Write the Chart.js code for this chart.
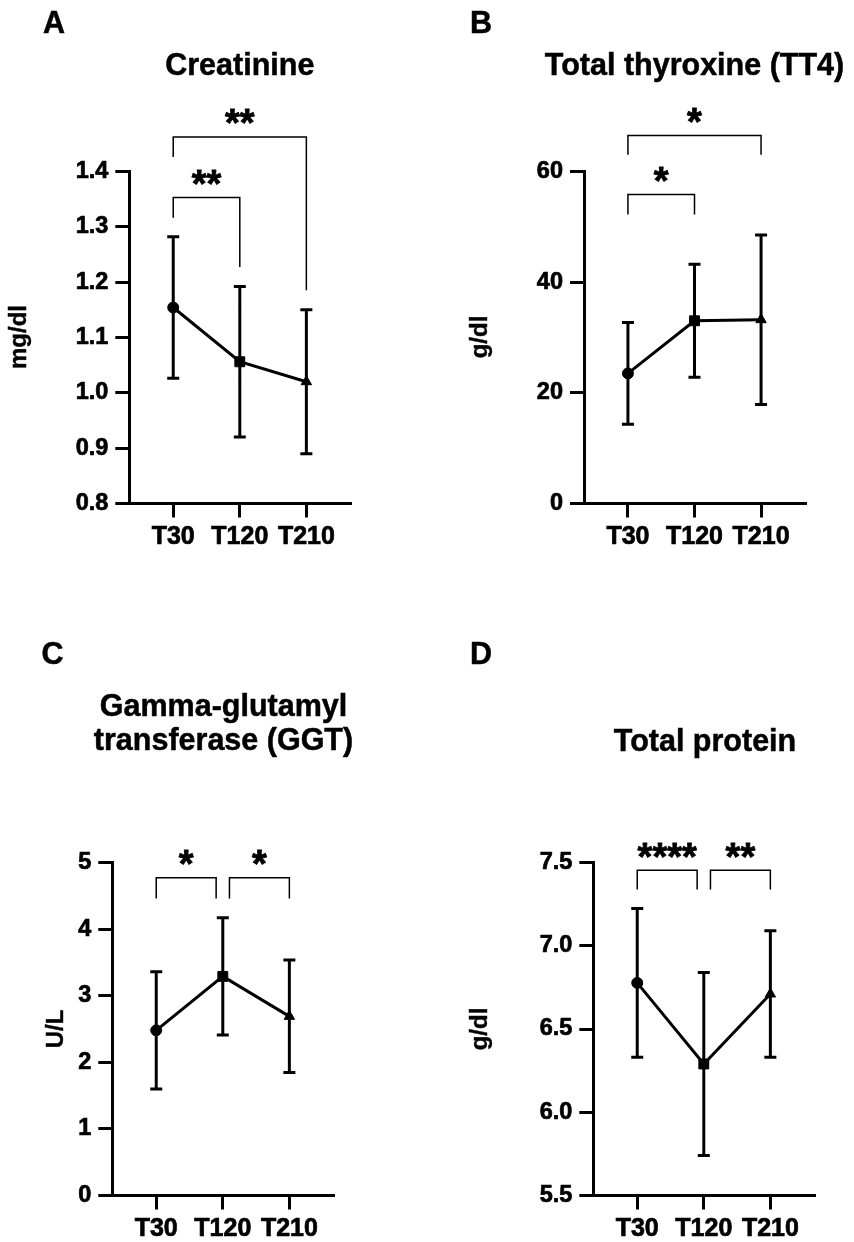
<!DOCTYPE html>
<html>
<head>
<meta charset="utf-8">
<title>Serum biochemistry T30 / T120 / T210</title>
<script src="https://cdn.jsdelivr.net/npm/chart.js@4.4.1/dist/chart.umd.min.js"></script>
<style>
  html, body { margin: 0; padding: 0; background: #fff; }
  body { width: 854px; height: 1242px; position: relative; overflow: hidden;
         font-family: "Liberation Sans", Arial, Helvetica, sans-serif; color: #000; }
  canvas { position: absolute; }
  .letter, .title, .ytitle { position: absolute; font-weight: bold; line-height: 1; white-space: nowrap; }
  .letter, .title { font-size: 30.5px; -webkit-text-stroke: 0.5px #000; }
  .title { transform: translateX(-50%); text-align: center; }
  .ytitle { font-size: 24px; -webkit-text-stroke: 0.4px #000; transform: translate(-50%, -50%) rotate(-90deg); }
</style>
</head>
<body>
<canvas id="chartA" width="427" height="600" style="left:0;top:0"></canvas>
<canvas id="chartB" width="427" height="600" style="left:427px;top:0"></canvas>
<canvas id="chartC" width="427" height="642" style="left:0;top:600px"></canvas>
<canvas id="chartD" width="427" height="642" style="left:427px;top:600px"></canvas>

<div class="letter" style="left:43px;top:6.6px">A</div>
<div class="letter" style="left:470px;top:6.6px">B</div>
<div class="letter" style="left:41.5px;top:637.7px">C</div>
<div class="letter" style="left:470px;top:637.7px">D</div>

<div class="title" style="left:239.8px;top:48.7px">Creatinine</div>
<div class="title" style="left:694.5px;top:49.2px">Total thyroxine (TT4)</div>
<div class="title" style="left:223.5px;top:688.4px;line-height:34px">Gamma-glutamyl<br>transferase (GGT)</div>
<div class="title" style="left:705px;top:725.2px">Total protein</div>

<div class="ytitle" style="left:18.4px;top:337.4px">mg/dl</div>
<div class="ytitle" style="left:478.7px;top:337.4px">g/dl</div>
<div class="ytitle" style="left:55px;top:1029px">U/L</div>
<div class="ytitle" style="left:478.7px;top:1029px">g/dl</div>

<script>
// 측정 시점
const categories = ["T30", "T120", "T210"];

// A: Creatinine (mg/dl) - 평균, 표준편차
const creatMean = [1.154, 1.056, 1.02];
const creatSd = [0.128, 0.136, 0.13];
const creatTicks = [0.8, 0.9, 1.0, 1.1, 1.2, 1.3, 1.4];
const creatTickLabels = ["0.8", "0.9", "1.0", "1.1", "1.2", "1.3", "1.4"];
const creatSig = [
    { from: 0, to: 1, y: 1.3525, legs: [1.316, 1.227], text: "**" },
    { from: 0, to: 2, y: 1.462, legs: [1.426, 1.185], text: "**" }
];

// B: Total thyroxine (g/dl)
const tt4Mean = [23.5, 33.0, 33.2];
const tt4Sd = [9.2, 10.2, 15.3];
const tt4Ticks = [0, 20, 40, 60];
const tt4TickLabels = ["0", "20", "40", "60"];
const tt4Sig = [
    { from: 0, to: 1, y: 55.8, legs: [52.2, 52.2], text: "*" },
    { from: 0, to: 2, y: 66.45, legs: [63.0, 63.0], text: "*" }
];

// C: GGT (U/L)
const ggtMean = [2.48, 3.29, 2.69];
const ggtSd = [0.88, 0.88, 0.845];
const ggtTicks = [0, 1, 2, 3, 4, 5];
const ggtTickLabels = ["0", "1", "2", "3", "4", "5"];
const ggtSig = [
    { from: 0, to: 0.9, y: 4.77, legs: [4.46, 4.46], text: "*" },
    { from: 1.1, to: 2, y: 4.77, legs: [4.46, 4.46], text: "*" }
];

// D: Total protein (g/dl)
const protMean = [6.777, 6.29, 6.71];
const protSd = [0.447, 0.55, 0.38];
const protTicks = [5.5, 6.0, 6.5, 7.0, 7.5];
const protTickLabels = ["5.5", "6.0", "6.5", "7.0", "7.5"];
const protSig = [
    { from: 0, to: 0.9, y: 7.454, legs: [7.338, 7.338], text: "****" },
    { from: 1.1, to: 2, y: 7.454, legs: [7.338, 7.338], text: "**" }
];

const markerStyles = ["circle", "rect", "triangle"];
const markerRadius = [5.5, 7, 6];

Chart.defaults.font.family = "'Liberation Sans', Arial, Helvetica, sans-serif";
Chart.defaults.font.weight = "bold";
Chart.defaults.color = "#000";

// 에러바: 위/아래 끝점 + null 로 끊기
function errorBarPoints(mean, sd) {
    const pts = [];
    mean.forEach((m, i) => {
        pts.push({ x: i, y: m + sd[i] }, { x: i, y: m - sd[i] }, { x: i, y: null });
    });
    return pts;
}

// 유의성 브래킷 + 별표
function sigPlugin(items) {
    return {
        id: "sigBars",
        afterDraw(chart) {
            const { ctx } = chart;
            const xs = chart.scales.x, ys = chart.scales.y;
            ctx.save();
            ctx.strokeStyle = "#000";
            ctx.fillStyle = "#000";
            ctx.lineWidth = 1.5;
            ctx.lineJoin = "miter";
            items.forEach(b => {
                const x1 = xs.getPixelForValue(b.from);
                const x2 = xs.getPixelForValue(b.to);
                const yb = ys.getPixelForValue(b.y);
                ctx.beginPath();
                ctx.moveTo(x1, ys.getPixelForValue(b.legs[0]));
                ctx.lineTo(x1, yb);
                ctx.lineTo(x2, yb);
                ctx.lineTo(x2, ys.getPixelForValue(b.legs[1]));
                ctx.stroke();
            });
            ctx.font = "bold 38px 'Liberation Sans', Arial, sans-serif";
            ctx.textAlign = "center";
            ctx.textBaseline = "alphabetic";
            ctx.lineWidth = 0.8;
            items.forEach(b => {
                const x1 = xs.getPixelForValue(b.from);
                const x2 = xs.getPixelForValue(b.to);
                const yb = ys.getPixelForValue(b.y);
                const m = ctx.measureText(b.text);
                const ty = yb - 20 + (m.actualBoundingBoxAscent - m.actualBoundingBoxDescent) / 2;
                ctx.fillText(b.text, (x1 + x2) / 2, ty);
                ctx.strokeText(b.text, (x1 + x2) / 2, ty);
            });
            ctx.restore();
        }
    };
}

function buildChart(canvasId, d, box) {
    const axisGrid = {
        drawOnChartArea: false, drawTicks: true, tickLength: 14,
        lineWidth: 3, tickWidth: 3, tickColor: "#000", color: "#000"
    };
    const axisBorder = { display: true, color: "#000", width: 3 };

    return new Chart(document.getElementById(canvasId), {
        type: "line",
        data: {
            datasets: [
                {
                    label: d.yTitle,
                    data: d.mean.map((v, i) => ({ x: i, y: v })),
                    borderColor: "#000",
                    borderWidth: 3,
                    tension: 0,
                    fill: false,
                    pointStyle: markerStyles,
                    pointRadius: markerRadius,
                    pointBackgroundColor: "#000",
                    pointBorderColor: "#000",
                    pointBorderWidth: 1
                },
                {
                    label: "SD",
                    data: errorBarPoints(d.mean, d.sd),
                    borderColor: "#000",
                    borderWidth: 3,
                    spanGaps: false,
                    fill: false,
                    pointStyle: "line",
                    pointRadius: 6,
                    pointBorderWidth: 3,
                    pointBorderColor: "#000"
                }
            ]
        },
        options: {
            responsive: false,
            animation: false,
            events: [],
            layout: { padding: { left: 0, top: box.top, right: box.right, bottom: box.bottom } },
            plugins: { legend: { display: false }, tooltip: { enabled: false } },
            scales: {
                x: {
                    type: "linear",
                    bounds: "data",
                    min: -0.66,
                    max: 2.66,
                    afterBuildTicks: s => { s.ticks = categories.map((c, i) => ({ value: i })); },
                    afterFit: s => { s.height = 46; },
                    ticks: {
                        callback: (v, i) => categories[i],
                        color: "#000",
                        font: { size: 25, weight: "bold" },
                        textStrokeColor: "#000",
                        textStrokeWidth: 0.7,
                        padding: 5,
                        maxRotation: 0,
                        autoSkip: false
                    },
                    grid: axisGrid,
                    border: axisBorder
                },
                y: {
                    type: "linear",
                    bounds: "data",
                    min: d.ticks[0],
                    max: d.ticks[d.ticks.length - 1],
                    afterBuildTicks: s => { s.ticks = d.ticks.map(v => ({ value: v })); },
                    afterFit: s => { s.width = box.yWidth; },
                    ticks: {
                        callback: (v, i) => d.tickLabels[i],
                        color: "#000",
                        font: { size: 23.5, weight: "bold" },
                        textStrokeColor: "#000",
                        textStrokeWidth: 0.7,
                        padding: 7
                    },
                    grid: axisGrid,
                    border: axisBorder,
                    title: { display: false }
                }
            }
        },
        plugins: [sigPlugin(d.sig)]
    });
}

window.onload = function () {
    buildChart("chartA",
        { mean: creatMean, sd: creatSd, ticks: creatTicks, tickLabels: creatTickLabels, yTitle: "mg/dl", sig: creatSig },
        { yWidth: 129.3, top: 171.3, right: 76.7, bottom: 50.5 });
    buildChart("chartB",
        { mean: tt4Mean, sd: tt4Sd, ticks: tt4Ticks, tickLabels: tt4TickLabels, yTitle: "g/dl", sig: tt4Sig },
        { yWidth: 157, top: 171.3, right: 49, bottom: 50.5 });
    buildChart("chartC",
        { mean: ggtMean, sd: ggtSd, ticks: ggtTicks, tickLabels: ggtTickLabels, yTitle: "U/L", sig: ggtSig },
        { yWidth: 112.3, top: 262.5, right: 93.7, bottom: 0.5 });
    buildChart("chartD",
        { mean: protMean, sd: protSd, ticks: protTicks, tickLabels: protTickLabels, yTitle: "g/dl", sig: protSig },
        { yWidth: 166.3, top: 262.5, right: 39.7, bottom: 0.5 });
};
</script>
</body>
</html>
